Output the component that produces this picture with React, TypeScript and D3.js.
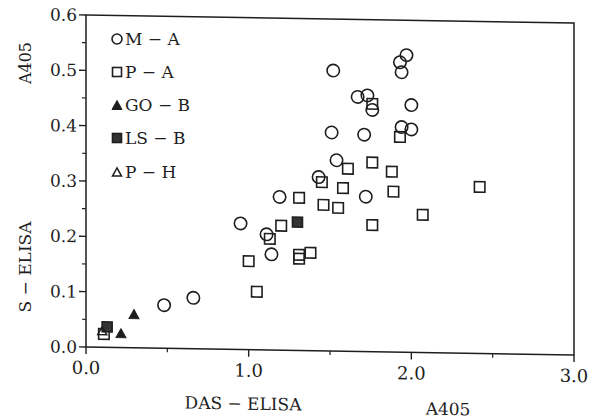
import React from 'react';
import * as d3 from 'd3';

const xTicks = [0, 1, 2, 3];
const xMinor = [0.5, 1.5, 2.5];
const yTicks = [0, 0.1, 0.2, 0.3, 0.4, 0.5, 0.6];
const yMinor = [0.05, 0.15, 0.25, 0.35, 0.45, 0.55];

const maData: [number, number][] = [
  [1.52, 0.507], [1.97, 0.537], [1.93, 0.524], [1.94, 0.506], [1.67, 0.46], [1.73, 0.463],
  [1.76, 0.437], [2.0, 0.447], [1.71, 0.392], [1.94, 0.407], [2.0, 0.403], [1.51, 0.395],
  [1.54, 0.345], [1.43, 0.314], [1.72, 0.28], [1.19, 0.277], [0.95, 0.228], [1.11, 0.209],
  [1.14, 0.173], [0.48, 0.078], [0.66, 0.092],
];
const paData: [number, number][] = [
  [1.76, 0.448], [1.93, 0.389], [1.61, 0.33], [1.45, 0.305], [1.76, 0.342], [1.88, 0.326],
  [1.58, 0.295], [1.89, 0.29], [2.42, 0.301], [1.31, 0.276], [1.46, 0.264], [1.55, 0.259],
  [2.07, 0.249], [1.76, 0.229], [1.2, 0.225], [1.13, 0.201], [1.0, 0.16], [1.31, 0.173],
  [1.31, 0.166], [1.38, 0.177], [1.05, 0.105], [0.11, 0.024],
];
const gobData: [number, number][] = [[0.295, 0.061], [0.215, 0.026]];
const lsbData: [number, number][] = [[1.3, 0.232], [0.13, 0.037]];
const phData: [number, number][] = [[0.1, 0.03]];

const legendLabels = ['M − A', 'P − A', 'GO − B', 'LS − B', 'P − H'];

const W = 488;
const H = 332;
const INK = '#1e1e1e';
const FONT = "'DejaVu Serif', serif";

const x = d3.scaleLinear().domain([0, 3]).range([0, W]);
const y = d3.scaleLinear().domain([0, 0.6]).range([H, 0]);

function Circle({ cx, cy, r }: { cx: number; cy: number; r: number }) {
  return <circle cx={cx} cy={cy} r={r} fill="none" stroke={INK} strokeWidth={1.6} />;
}
function Square({ cx, cy, s, filled }: { cx: number; cy: number; s: number; filled?: boolean }) {
  return (
    <rect x={cx - s / 2} y={cy - s / 2} width={s} height={s}
      fill={filled ? '#333' : 'none'} stroke={INK} strokeWidth={1.6} />
  );
}
function Tri({ cx, cy, s, filled }: { cx: number; cy: number; s: number; filled?: boolean }) {
  const h = s * 0.9;
  const p = `M${cx},${cy - h / 2}L${cx + s / 2},${cy + h / 2}L${cx - s / 2},${cy + h / 2}Z`;
  return <path d={p} fill={filled ? INK : 'none'} stroke={INK} strokeWidth={filled ? 1 : 1.5} strokeLinejoin="miter" />;
}

export default function App() {
  const legendY = [39, 72, 105, 138, 172];
  return (
    <svg width={599} height={418} style={{ position: 'absolute', left: 0, top: 0, background: '#fff' }}>
      <rect x={0} y={0} width={599} height={418} fill="#fff" />
      <g transform="translate(86,15) skewY(0.95)">
        {/* frame */}
        <rect x={0} y={0} width={W} height={H} fill="none" stroke={INK} strokeWidth={1.5} />
        {/* y ticks */}
        {yTicks.map((t) => (
          <g key={'yt' + t}>
            <line x1={-7} x2={0} y1={y(t)} y2={y(t)} stroke={INK} strokeWidth={1.4} />
            <text x={-9} y={y(t)} dy="0.36em" textAnchor="end" fontFamily={FONT} fontSize={17} fill={INK}>
              {t.toFixed(1)}
            </text>
          </g>
        ))}
        {yMinor.map((t) => (
          <line key={'ym' + t} x1={-4} x2={0} y1={y(t)} y2={y(t)} stroke={INK} strokeWidth={1.2} />
        ))}
        {/* x ticks */}
        {xTicks.map((t) => (
          <g key={'xt' + t}>
            <line x1={x(t)} x2={x(t)} y1={H} y2={H + 7} stroke={INK} strokeWidth={1.4} />
            <text x={x(t)} y={H + 27} textAnchor="middle" fontFamily={FONT} fontSize={18} fill={INK}>
              {t.toFixed(1)}
            </text>
          </g>
        ))}
        {xMinor.map((t) => (
          <line key={'xm' + t} x1={x(t)} x2={x(t)} y1={H} y2={H + 4} stroke={INK} strokeWidth={1.2} />
        ))}
        {/* data */}
        {maData.map((d, i) => <Circle key={'ma' + i} cx={x(d[0])} cy={y(d[1])} r={6.2} />)}
        {paData.map((d, i) => <Square key={'pa' + i} cx={x(d[0])} cy={y(d[1])} s={10.5} />)}
        {lsbData.map((d, i) => <Square key={'ls' + i} cx={x(d[0])} cy={y(d[1])} s={10} filled />)}
        {gobData.map((d, i) => <Tri key={'go' + i} cx={x(d[0])} cy={y(d[1])} s={10} filled />)}
        {phData.map((d, i) => <Tri key={'ph' + i} cx={x(d[0])} cy={y(d[1])} s={9} />)}
        {/* x labels */}
        <text x={157} y={H + 60} textAnchor="middle" fontFamily={FONT} fontSize={17} fill={INK}>DAS − ELISA</text>
        <text x={362} y={H + 62} textAnchor="middle" fontFamily={FONT} fontSize={17} fill={INK}>A405</text>
      </g>
      {/* legend */}
      <Circle cx={117} cy={legendY[0]} r={5} />
      <Square cx={117} cy={legendY[1]} s={9} />
      <Tri cx={117} cy={legendY[2]} s={10} filled />
      <Square cx={117} cy={legendY[3]} s={9} filled />
      <Tri cx={117} cy={legendY[4]} s={9} />
      {legendLabels.map((l, i) => (
        <text key={l} x={125} y={legendY[i]} dy="0.36em" fontFamily={FONT} fontSize={17} fill={INK}>{l}</text>
      ))}
      {/* y labels */}
      <text transform="translate(31,63) rotate(-90)" textAnchor="middle" fontFamily={FONT} fontSize={16} fill={INK}>A405</text>
      <text transform="translate(31,267) rotate(-90)" textAnchor="middle" fontFamily={FONT} fontSize={17} fill={INK}>S − ELISA</text>
    </svg>
  );
}
